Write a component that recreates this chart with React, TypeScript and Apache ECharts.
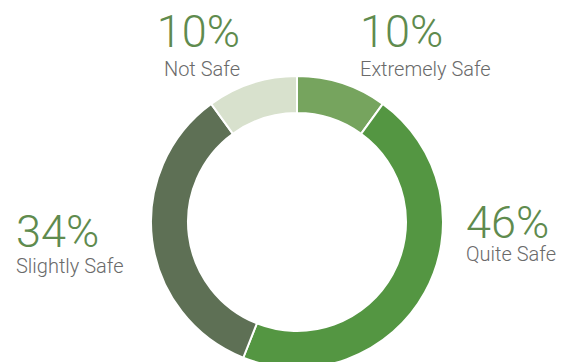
import React, { useEffect, useRef } from "react";
import * as echarts from "echarts";

const categories = ["Extremely Safe", "Quite Safe", "Slightly Safe", "Not Safe"];
const values = [10, 46, 34, 10];
const sliceColors = ["#76a45e", "#549642", "#5e7055", "#d8e1cd"];
// label anchor positions [x, yPercentMiddle, yNameMiddle, align]
const labelPos: [number, number, number, string][] = [
  [360, 31, 69, "left"],
  [466, 222, 254, "left"],
  [16, 231, 266, "left"],
  [240, 31, 69, "right"],
];

export default function App() {
  const ref = useRef<HTMLDivElement>(null);
  useEffect(() => {
    if (!ref.current) return;
    const chart = echarts.init(ref.current, undefined, { renderer: "svg" });
    const graphics: any[] = [];
    categories.forEach((c, i) => {
      const [x, yp, yn, align] = labelPos[i];
      graphics.push({
        type: "text",
        x,
        y: yp,
        style: {
          text: values[i] + "%",
          fontFamily: "Roboto",
          fontWeight: 300,
          fontSize: 45,
          lineHeight: 34,
          fill: "#5f8b4e",
          align,
          verticalAlign: "middle",
        },
      });
      graphics.push({
        type: "text",
        x,
        y: yn,
        style: {
          text: c,
          fontFamily: "Roboto",
          fontWeight: 300,
          fontSize: 20,
          lineHeight: 20,
          fill: "#6a6a6a",
          align,
          verticalAlign: "middle",
        },
      });
    });
    chart.setOption({
      animation: false,
      color: sliceColors,
      graphic: graphics,
      series: [
        {
          type: "pie",
          center: [297, 222],
          radius: [109, 146],
          startAngle: 90,
          clockwise: true,
          label: { show: false },
          labelLine: { show: false },
          emphasis: { disabled: true },
          itemStyle: { borderColor: "#ffffff", borderWidth: 2 },
          data: categories.map((c, i) => ({ name: c, value: values[i] })),
        },
      ],
    });
    return () => chart.dispose();
  }, []);
  return (
    <div
      ref={ref}
      style={{ position: "fixed", left: 0, top: 0, width: 575, height: 362, background: "#fff" }}
    />
  );
}
